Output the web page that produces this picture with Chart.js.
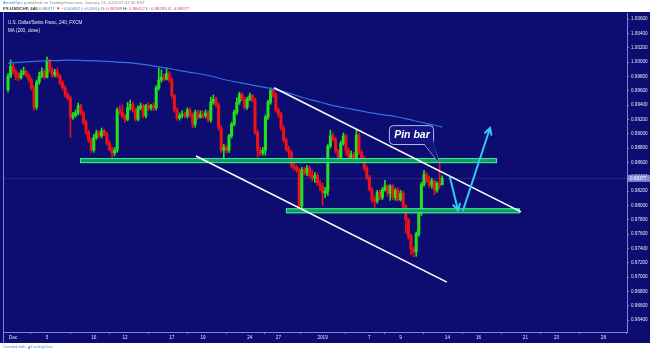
<!DOCTYPE html>
<html><head><meta charset="utf-8">
<script src="https://cdn.jsdelivr.net/npm/chart.js@4.4.1/dist/chart.umd.min.js"></script>
<style>
html,body{margin:0;padding:0;background:#fff;}
#wrap{position:relative;width:650px;height:350px;overflow:hidden;}
canvas{position:absolute;left:0;top:0;}
.t{position:absolute;font-family:"Liberation Sans",Arial,sans-serif;white-space:nowrap;line-height:1;}
</style></head><body>
<div id="wrap">
<canvas id="c" width="650" height="350"></canvas>
<div class="t" style="left:3px;top:1px;font-size:4.3px;color:#8a8a8a"><span style="color:#3d8fe0">ArrowPips</span> published on TradingView.com, January 13, 2019 07:32:32 EST</div>
<div class="t" style="left:3px;top:7px;font-size:4.4px;color:#333"><b>FX:USDCHF, 240</b> <span style="color:#3c7fd8">0.98377</span> <span style="color:#e02020">▼</span> <span style="color:#3c7fd8">−0.00052 (−0.05%)</span> O: <span style="color:#d040a0">0.98189</span> H: <span style="color:#d040a0">0.98412</span> L: <span style="color:#d040a0">0.98285</span> C: <span style="color:#d040a0">0.98377</span></div>
<div class="t" style="left:8px;top:21px;font-size:4.6px;color:#e8eaff">U.S. Dollar/Swiss Franc, 240, FXCM</div>
<div class="t" style="left:8px;top:29px;font-size:4.6px;color:#e8eaff">MA (200, close)</div>
<div class="t" style="left:3px;top:345px;font-size:4px;color:#4a8ad0">Created with <span style="color:#3aa0e8">◢ TradingView</span></div>
</div>
<script>
// ---- data (USDCHF 4h candles, index 0 = first bar of Dec 2018) ----
const opens = [
.9961,.9980,.9994,.9987,.9980,.9978,.9984,.9987,.9982,.9975,
.9964,.9937,.9972,.9980,.9987,.9979,1.0001,.9989,.9982,.9986,
.9980,.9971,.9964,.9954,.9950,.9923,.9926,.9929,.9939,.9929,
.9916,.9902,.9891,.9877,.9895,.9901,.9897,.9904,.9899,.9887,
.9878,.9873,.9877,.9933,.9930,.9925,.9920,.9936,.9941,.9933,
.9920,.9936,.9939,.9925,.9939,.9936,.9939,.9936,.9964,.9975,
.9979,.9976,.9984,.9975,.9953,.9933,.9922,.9925,.9927,.9925,
.9933,.9926,.9913,.9930,.9923,.9927,.9925,.9929,.9919,.9944,
.9948,.9940,.9908,.9877,.9881,.9877,.9897,.9913,.9930,.9944,
.9955,.9948,.9937,.9948,.9953,.9947,.9902,.9877,.9873,.9877,
.9923,.9944,.9960,.9954,.9933,.9927,.9908,.9891,.9878,.9874,
.9855,.9853,.9849,.9799,.9850,.9845,.9852,.9842,.9838,.9842,
.9831,.9827,.9817,.9820,.9883,.9897,.9892,.9876,.9867,.9887,
.9897,.9877,.9867,.9871,.9866,.9898,.9874,.9866,.9852,.9839,
.9822,.9808,.9806,.9818,.9811,.9822,.9827,.9817,.9827,.9811,
.9821,.9808,.9817,.9799,.9780,.9757,.9739,.9735,.9760,.9789,
.9829,.9843,.9835,.9828,.9834,.9821,.9831,.9829];
const highs = [
.9984,1.0003,.9997,.9990,.9986,.9989,.9993,.9989,.9984,.9978,
.9967,.9975,.9986,.9992,.9990,1.0007,1.0004,.9993,.9990,.9992,
.9983,.9974,.9967,.9957,.9953,.9930,.9933,.9943,.9941,.9932,
.9919,.9905,.9894,.9899,.9905,.9904,.9908,.9906,.9902,.9890,
.9881,.9881,.9936,.9939,.9940,.9927,.9944,.9947,.9944,.9936,
.9939,.9943,.9941,.9941,.9943,.9941,.9943,.9967,.9992,.9989,
.9983,.9992,.9987,.9978,.9955,.9936,.9929,.9932,.9930,.9936,
.9936,.9929,.9933,.9933,.9932,.9932,.9933,.9932,.9951,.9954,
.9951,.9943,.9911,.9885,.9884,.9899,.9916,.9933,.9950,.9958,
.9957,.9951,.9951,.9957,.9955,.9950,.9905,.9881,.9881,.9926,
.9947,.9964,.9962,.9957,.9936,.9930,.9911,.9894,.9883,.9877,
.9859,.9856,.9852,.9853,.9853,.9856,.9855,.9849,.9846,.9845,
.9835,.9831,.9825,.9885,.9905,.9901,.9895,.9878,.9890,.9901,
.9899,.9880,.9876,.9874,.9905,.9901,.9877,.9869,.9855,.9842,
.9825,.9813,.9821,.9821,.9825,.9835,.9829,.9829,.9829,.9824,
.9825,.9821,.9820,.9801,.9782,.9760,.9742,.9763,.9792,.9832,
.9849,.9846,.9841,.9838,.9836,.9833,.9859,.98412];
const lows = [
.9958,.9978,.9984,.9975,.9974,.9976,.9982,.9979,.9972,.9961,
.9933,.9934,.9969,.9978,.9976,.9978,.9986,.9979,.9979,.9978,
.9968,.9961,.9951,.9947,.9895,.9920,.9923,.9926,.9926,.9913,
.9899,.9888,.9874,.9874,.9892,.9894,.9894,.9897,.9884,.9876,
.9867,.9869,.9874,.9927,.9922,.9916,.9918,.9933,.9930,.9918,
.9918,.9933,.9922,.9922,.9933,.9933,.9932,.9933,.9961,.9972,
.9974,.9975,.9972,.9950,.9930,.9919,.9919,.9922,.9922,.9922,
.9923,.9908,.9909,.9920,.9922,.9922,.9922,.9916,.9916,.9941,
.9937,.9905,.9874,.9863,.9873,.9874,.9894,.9911,.9927,.9941,
.9946,.9934,.9934,.9946,.9944,.9899,.9867,.9869,.9870,.9870,
.9920,.9941,.9951,.9930,.9923,.9905,.9888,.9876,.9859,.9852,
.9849,.9846,.9793,.9796,.9842,.9841,.9839,.9834,.9832,.9828,
.9821,.9800,.9811,.9814,.9880,.9890,.9873,.9863,.9863,.9884,
.9870,.9863,.9863,.9863,.9863,.9871,.9862,.9849,.9836,.9820,
.9804,.9796,.9803,.9808,.9808,.9820,.9813,.9807,.9808,.9807,
.9806,.9806,.9796,.9761,.9753,.9731,.9728,.9729,.9757,.9786,
.9827,.9832,.9825,.9824,.9815,.9818,.9824,.98285];
const closes = [
.9980,.9994,.9987,.9980,.9978,.9984,.9987,.9982,.9975,.9964,
.9937,.9972,.9980,.9987,.9979,1.0001,.9989,.9982,.9986,.9980,
.9971,.9964,.9954,.9950,.9923,.9926,.9929,.9939,.9929,.9916,
.9902,.9891,.9877,.9895,.9901,.9897,.9904,.9899,.9887,.9878,
.9873,.9877,.9933,.9930,.9925,.9920,.9936,.9941,.9933,.9920,
.9936,.9939,.9925,.9939,.9936,.9939,.9936,.9964,.9975,.9979,
.9976,.9984,.9975,.9953,.9933,.9922,.9925,.9927,.9925,.9933,
.9926,.9913,.9930,.9923,.9927,.9925,.9929,.9919,.9944,.9948,
.9940,.9908,.9877,.9881,.9877,.9897,.9913,.9930,.9944,.9955,
.9948,.9937,.9948,.9953,.9947,.9902,.9877,.9873,.9877,.9923,
.9944,.9960,.9954,.9933,.9927,.9908,.9891,.9878,.9874,.9855,
.9853,.9849,.9799,.9850,.9845,.9852,.9842,.9838,.9842,.9831,
.9827,.9817,.9820,.9883,.9897,.9892,.9876,.9867,.9887,.9897,
.9877,.9867,.9871,.9866,.9898,.9874,.9866,.9852,.9839,.9822,
.9808,.9806,.9818,.9811,.9822,.9827,.9817,.9827,.9811,.9821,
.9808,.9817,.9799,.9780,.9757,.9739,.9735,.9760,.9789,.9829,
.9843,.9835,.9828,.9834,.9821,.9831,.9828,.98377];
// MA(200, close) read at every 6th bar
const maIdx = [0,6,12,18,24,30,36,42,48,54,60,66,72,78,84,90,96,102,108,114,120,126,132,138,144,150,156,162,167];
const maValues = [0.99986,1.00000,1.00014,1.00021,1.00028,1.00021,1.00014,1.00000,0.99986,0.99958,0.99923,0.99881,0.99847,0.99805,0.99749,0.99707,0.99665,0.99623,0.99567,0.99498,0.99442,0.99386,0.99344,0.99302,0.99267,0.99233,0.99184,0.99135,0.99093];
// axis ticks
const xTickIdx = [2,15,33,45,63,75,93,104,121,139,151,169,181,199,211,229];
const xTickLabels = ['Dec','5','10','12','17','19','24','27','2019','7','9','14','16','21','23','28'];
const yTicks = [0.964,0.966,0.968,0.970,0.972,0.974,0.976,0.978,0.980,0.982,0.984,0.986,0.988,0.990,0.992,0.994,0.996,0.998,1.000,1.002,1.004,1.006];
// drawings (bar index, price)
const zones = [[27.7,0.9866,188.1,0.9859],[106.9,0.9796,196.9,0.9789]];
const channelLines = [[102.3,0.9964,197.3,0.9791],[72.3,0.9869,168.8,0.9693]];
const arrows = [[170,0.9839,173.1,0.9793],[175,0.9793,185.4,0.9908]];
const callout = {x1:146.5,y1:0.99120,x2:163.5,y2:0.98856,tipX:165.8,tipY:0.98591,text:'Pin bar'};

const N = closes.length;
const ids = closes.map((_, i) => i);
const UP = '#22e21e', DOWN = '#ec1218';
const colorOf = i => closes[i] >= opens[i] ? UP : DOWN;
const AXIS = '#7a83dc';
const TICKFONT = {size:4.6, family:'"Liberation Sans", Arial, sans-serif'};

const overlay = {
  id:'overlay',
  beforeDraw(chart){
    const c = chart.ctx;
    c.save();
    c.fillStyle = '#0d0c70';
    c.fillRect(0, 12, 650, 331);
    c.strokeStyle = AXIS; c.lineWidth = 1;
    c.beginPath(); c.moveTo(3.5, 12); c.lineTo(3.5, 343); c.stroke();
    c.restore();
  },
  afterDatasetsDraw(chart){
    const c = chart.ctx, xs = chart.scales.x, ys = chart.scales.y, ca = chart.chartArea;
    const X = v => xs.getPixelForValue(v), Y = v => ys.getPixelForValue(v);
    c.save();
    c.beginPath(); c.rect(ca.left, ca.top, ca.right - ca.left, ca.bottom - ca.top); c.clip();
    const ly = Math.round(Y(closes[N-1])) + 0.5;
    c.strokeStyle = 'rgba(130,140,230,0.35)'; c.lineWidth = 1; c.setLineDash([1,1]);
    c.beginPath(); c.moveTo(ca.left, ly); c.lineTo(ca.right, ly); c.stroke();
    c.setLineDash([]);
    for (const z of zones) {
      const x1 = X(z[0]), y1 = Y(z[1]), x2 = X(z[2]), y2 = Y(z[3]);
      c.fillStyle = 'rgba(14,165,76,0.95)';
      c.fillRect(x1, y1, x2 - x1, y2 - y1);
      c.strokeStyle = '#3fe8b4'; c.lineWidth = 1;
      c.strokeRect(x1 + 0.5, y1 + 0.5, x2 - x1 - 1, y2 - y1 - 1);
    }
    c.strokeStyle = '#ffffff'; c.lineWidth = 1.6;
    for (const l of channelLines) {
      c.beginPath(); c.moveTo(X(l[0]), Y(l[1])); c.lineTo(X(l[2]), Y(l[3])); c.stroke();
    }
    c.strokeStyle = '#35c8f4'; c.lineWidth = 2; c.lineCap = 'round';
    for (const a of arrows) {
      const x1 = X(a[0]), y1 = Y(a[1]), x2 = X(a[2]), y2 = Y(a[3]);
      const ang = Math.atan2(y2 - y1, x2 - x1), h = 7, s = 0.5;
      c.beginPath(); c.moveTo(x1, y1); c.lineTo(x2, y2);
      c.moveTo(x2 - h*Math.cos(ang - s), y2 - h*Math.sin(ang - s)); c.lineTo(x2, y2);
      c.lineTo(x2 - h*Math.cos(ang + s), y2 - h*Math.sin(ang + s));
      c.stroke();
    }
    const bx1 = X(callout.x1), by1 = Y(callout.y1), bx2 = X(callout.x2), by2 = Y(callout.y2);
    const tx = X(callout.tipX), ty = Y(callout.tipY);
    c.lineCap = 'butt';
    c.fillStyle = '#15137e'; c.strokeStyle = '#b4bbf4'; c.lineWidth = 1;
    c.beginPath(); c.moveTo(bx2 - 9, by2); c.lineTo(tx, ty); c.lineTo(bx2 - 1, by2 - 4); c.stroke();
    c.beginPath(); c.roundRect(bx1 + 0.5, by1 + 0.5, bx2 - bx1, by2 - by1, 4); c.fill(); c.stroke();
    c.beginPath(); c.moveTo(bx2 - 9, by2 - 0.5); c.lineTo(tx, ty); c.lineTo(bx2 - 0.5, by2 - 5); c.closePath(); c.fill();
    c.fillStyle = '#ffffff'; c.font = 'italic bold 10.5px "Liberation Sans", Arial, sans-serif';
    c.textAlign = 'center'; c.textBaseline = 'middle';
    c.fillText(callout.text, (bx1 + bx2)/2 + 1, (by1 + by2)/2 + 1);
    c.restore();
    c.save();
    const py = Y(closes[N-1]);
    c.fillStyle = '#7d8ad8';
    c.fillRect(ca.right, py - 3.5, 650 - ca.right, 7);
    c.fillStyle = '#ffffff'; c.font = '4.6px "Liberation Sans", Arial, sans-serif';
    c.textAlign = 'left'; c.textBaseline = 'middle';
    c.fillText(closes[N-1].toFixed(5), ca.right + 3, py);
    c.restore();
  }
};

new Chart(document.getElementById('c'), {
  type: 'bar',
  data: {
    datasets: [
      { type:'line', label:'MA', data: maIdx.map((x, k) => ({x, y: maValues[k]})), borderColor:'#3470e4', borderWidth:1.2, pointRadius:0, tension:0.4, order:0 },
      { label:'wick', data: ids.map(i => ({x:i, y:[lows[i], highs[i]]})), backgroundColor: ctx => colorOf(ctx.dataIndex), barThickness:1, grouped:false, order:2 },
      { label:'body', data: ids.map(i => ({x:i, y:[opens[i], closes[i]]})), backgroundColor: ctx => colorOf(ctx.dataIndex), barThickness:2.4, minBarLength:1, grouped:false, order:1 }
    ]
  },
  options: {
    responsive:false, animation:false, devicePixelRatio:1,
    layout:{padding:{left:4, top:13, right:0, bottom:7}},
    plugins:{legend:{display:false}, tooltip:{enabled:false}},
    scales:{
      x:{ type:'linear', min:-1.54, max:238.08, offset:false,
          grid:{display:true, drawOnChartArea:false, drawTicks:true, tickLength:2, color:AXIS},
          border:{display:true, color:AXIS},
          ticks:{color:'#e6e8ff', font:TICKFONT, padding:1, maxRotation:0, autoSkip:false,
                 callback:(v) => { const k = xTickIdx.indexOf(v); return k >= 0 ? xTickLabels[k] : ''; }},
          afterBuildTicks: s => { s.ticks = xTickIdx.map(v => ({value:v})); },
          afterFit: s => { s.height = 11; } },
      y:{ type:'linear', position:'right', min:0.96234, max:1.00684,
          grid:{display:true, drawOnChartArea:false, drawTicks:true, tickLength:2, color:AXIS},
          border:{display:true, color:AXIS},
          ticks:{color:'#e6e8ff', font:TICKFONT, padding:2, autoSkip:false,
                 callback:(v) => Number(v).toFixed(5)},
          afterBuildTicks: s => { s.ticks = yTicks.map(v => ({value:v})); },
          afterFit: s => { s.width = 23; } }
    }
  },
  plugins:[overlay]
});
</script>
</body></html>
